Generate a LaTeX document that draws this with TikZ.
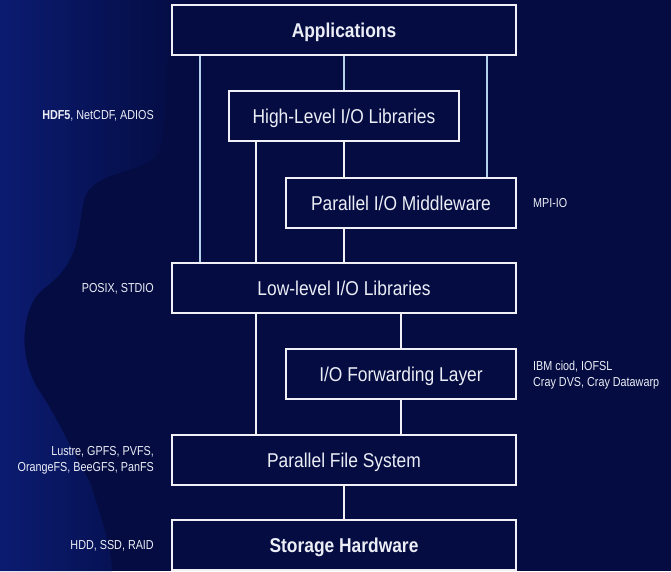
\documentclass[tikz,border=0pt]{standalone}
\usepackage{fontspec}
\setmainfont{Liberation Sans}
\newfontfamily\boxfont[FakeStretch=0.87]{Liberation Sans}
\newfontfamily\lblfont[FakeStretch=0.83]{Liberation Sans}
\definecolor{bg}{RGB}{4,12,66}
\definecolor{glow}{RGB}{11,27,112}
\definecolor{lblue}{RGB}{180,210,236}
\definecolor{boxline}{RGB}{240,240,246}
\definecolor{txt}{RGB}{236,238,246}
\begin{document}
\begin{tikzpicture}[x=1pt,y=-1pt,
  layer/.style={draw=boxline, line width=1.5pt, fill=bg, text=txt,
    minimum height=50pt, inner sep=0pt, text height=16pt, text depth=1.7pt,
    font=\boxfont\fontsize{20}{22}\selectfont},
  widebox/.style={layer, minimum width=344pt},
  narrowbox/.style={layer, minimum width=230pt},
  lbline/.style={draw=lblue, line width=1.5pt},
  wline/.style={draw=boxline, line width=1.5pt},
  lbl/.style={text=txt, inner sep=0pt, font=\lblfont\fontsize{13}{16}\selectfont}]
\useasboundingbox (0,0) rectangle (671,571);
\fill[bg] (0,0) rectangle (671,571);
% left glow
\shade[left color=glow, right color=bg]
  (0,0) -- (185,0) .. controls (160,40) and (170,120) .. (160,150)
  .. controls (150,175) and (92,168) .. (84,200)
  .. controls (76,240) and (80,262) .. (42,290)
  .. controls (20,310) and (18,360) .. (40,392)
  .. controls (60,422) and (72,452) .. (90,482)
  .. controls (102,520) and (112,550) .. (112,571) -- (0,571) -- cycle;
% x positions
\coordinate (xa) at (200,0);
\coordinate (xb) at (256,0);
\coordinate (xc) at (344,0);
\coordinate (xd) at (401,0);
\coordinate (xe) at (487,0);
% boxes
\node[widebox, font=\boxfont\fontsize{20}{22}\selectfont\bfseries] (apps) at (344,30) {Applications};
\node[narrowbox] (hl) at (344,116) {High-Level I/O Libraries};
\node[narrowbox] (mw) at (401,203) {Parallel I/O Middleware};
\node[widebox] (low) at (344,288) {Low-level I/O Libraries};
\node[narrowbox] (iofl) at (401,374) {I/O Forwarding Layer};
\node[widebox] (pfs) at (344,460) {Parallel File System};
\node[widebox, font=\boxfont\fontsize{20}{22}\selectfont\bfseries] (sh) at (344,545) {Storage Hardware};
% connectors
\draw[lbline] (apps.south -| xa) -- (low.north -| xa);
\draw[lbline] (apps.south) -- (hl.north);
\draw[lbline] (apps.south -| xe) -- (mw.north -| xe);
\draw[wline] (hl.south -| xb) -- (low.north -| xb);
\draw[wline] (hl.south) -- (mw.north -| xc);
\draw[wline] (mw.south -| xc) -- (low.north);
\draw[wline] (low.south -| xb) -- (pfs.north -| xb);
\draw[wline] (low.south -| xd) -- (iofl.north);
\draw[wline] (iofl.south) -- (pfs.north -| xd);
\draw[wline] (pfs.south) -- (sh.north);
% labels
\node[lbl, anchor=east] (l1) at (154,116) {\textbf{HDF5}, NetCDF, ADIOS};
\node[lbl, anchor=west] (l2) at (533,203) {MPI-IO};
\node[lbl, anchor=east] (l3) at (154,289) {POSIX, STDIO};
\node[lbl, anchor=west, align=left] (l4) at (533,375) {IBM ciod, IOFSL\\Cray DVS, Cray Datawarp};
\node[lbl, anchor=east, align=right] (l5) at (154,460) {Lustre, GPFS, PVFS,\\OrangeFS, BeeGFS, PanFS};
\node[lbl, anchor=east] (l6) at (154,546) {HDD, SSD, RAID};
\end{tikzpicture}
\end{document}
